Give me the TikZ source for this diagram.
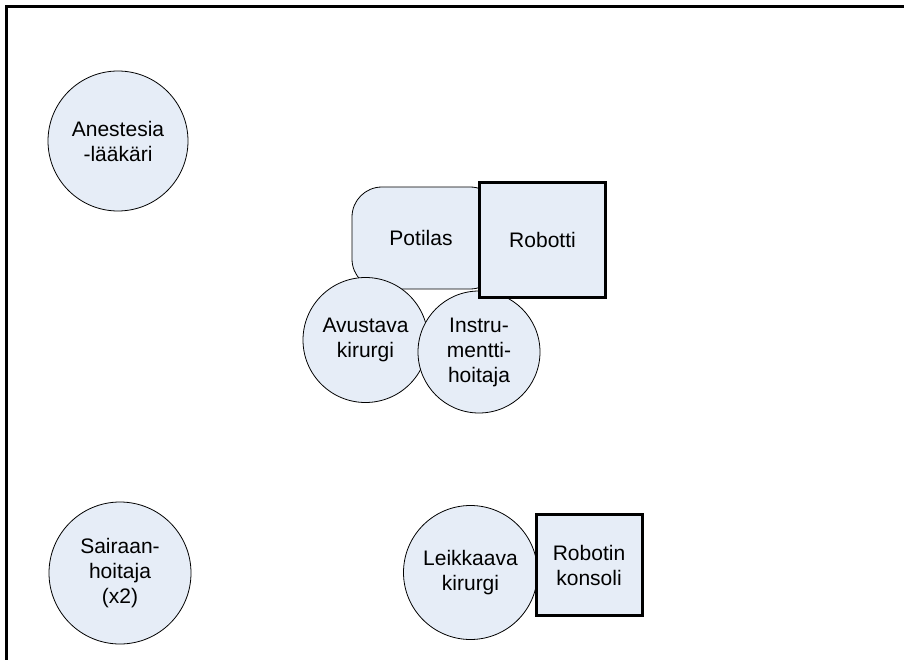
\documentclass[tikz,border=0pt]{standalone}
\usepackage{fontspec}
\setmainfont{Liberation Sans}
\usetikzlibrary{positioning}
\definecolor{tausta}{RGB}{230,237,247}

\tikzset{
  henkilo/.style={circle, draw=black, fill=tausta, line width=0.8pt, align=center, inner sep=0pt},
  laite/.style={rectangle, draw=black, fill=tausta, line width=3pt, align=center, inner sep=0pt},
}

\begin{document}
\begin{tikzpicture}[x=1pt, y=-1pt, font=\fontsize{21}{25}\selectfont]
            \useasboundingbox (0,0) rectangle (904,660);
            % Salin reuna
            \draw[line width=2.5pt] (6.3,680) -- (6.3,6.3) -- (924,6.3);

            % Anestesialaakari ja sairaanhoitaja
            \node[henkilo, minimum size=140pt] (anest) at (118,141) {Anestesia\\-lääkäri};
            \node[henkilo, minimum size=142pt] (sairaan) at (120,573) {Sairaan-\\hoitaja\\(x2)};

            % Potilas ja robotti
            \node[draw=black, fill=tausta, line width=0.8pt, rounded corners=30pt,
                  minimum width=148pt, minimum height=102pt] (potilas) at (426,238) {\hspace*{-10pt}Potilas};
            \node[henkilo, minimum size=125pt] (avustava) at (365.5,340) {Avustava\\kirurgi};
            \node[henkilo, minimum size=122pt] (instr) at (479,352) {Instru-\\mentti-\\hoitaja};
            \node[laite, minimum width=126pt, minimum height=115pt] (robotti) at (542.5,240) {Robotti};

            % Konsoli
            \node[henkilo, minimum size=134pt] (leikkaava) at (470.5,572.5) {Leikkaava\\kirurgi};
            \node[laite, minimum width=106pt, minimum height=101pt] (konsoli) at (589,565) {Robotin\\konsoli};
        \end{tikzpicture}
\end{document}
